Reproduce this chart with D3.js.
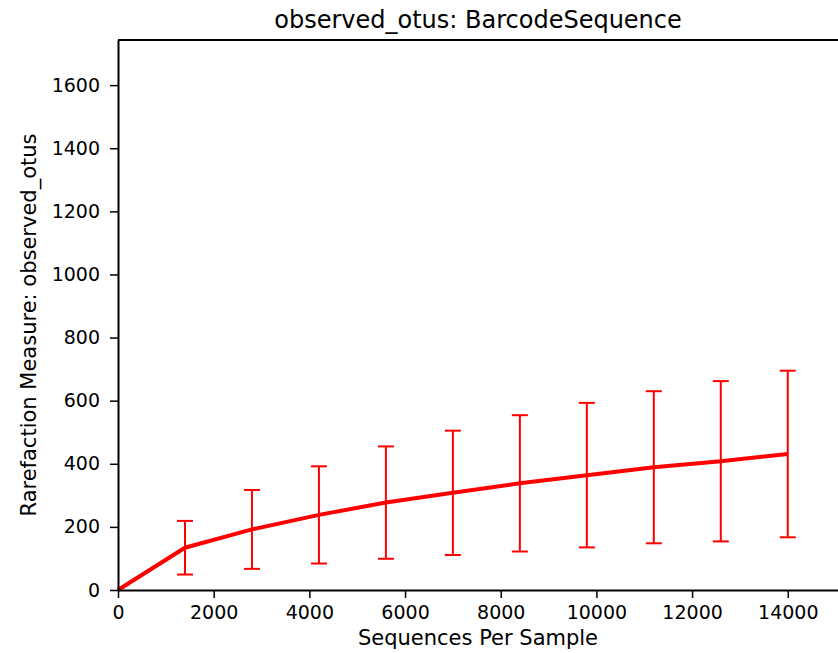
<!DOCTYPE html>
<html>
<head>
<meta charset="utf-8">
<script src="https://cdn.jsdelivr.net/npm/d3@7"></script>
<style>
  body { margin: 0; background: #fff; }
  text { font-family: "DejaVu Sans", sans-serif; }
</style>
</head>
<body>
<div id="chart-area"></div>
<script>
// rarefaction depths and observed_otus mean / std
var depths = [0, 1400, 2800, 4200, 5600, 7000, 8400, 9800, 11200, 12600, 14000];
var means = [0, 134, 192, 238, 277, 308, 338, 364, 389, 408, 431];
var stds = [0, 85, 125, 154, 178, 197, 216, 229, 241, 254, 264];
var xTicks = [0, 2000, 4000, 6000, 8000, 10000, 12000, 14000];
var yTicks = [0, 200, 400, 600, 800, 1000, 1200, 1400, 1600];

var width = 838;
var height = 653;
var margin = { top: 40, right: 0, bottom: 63, left: 118 };
var innerWidth = width - margin.left - margin.right;
var innerHeight = height - margin.top - margin.bottom;

var svg = d3.select("#chart-area")
    .append("svg")
    .attr("width", width)
    .attr("height", height);

var g = svg.append("g")
    .attr("transform", `translate(${margin.left}, ${margin.top})`);

var x = d3.scaleLinear()
    .domain([0, 15050])
    .range([0, innerWidth]);

var y = d3.scaleLinear()
    .domain([0, 1743])
    .range([innerHeight, 0]);

var data = depths.map((d, i) => ({ depth: d, mean: means[i], sd: stds[i] }));

// error bars
var bars = g.selectAll(".err")
    .data(data.filter(d => d.sd > 0))
    .enter()
    .append("g")
    .attr("class", "err")
    .attr("stroke", "#ff0000")
    .attr("stroke-width", 2);

bars.append("line")
    .attr("x1", d => x(d.depth))
    .attr("x2", d => x(d.depth))
    .attr("y1", d => y(d.mean - d.sd))
    .attr("y2", d => y(d.mean + d.sd));

bars.append("line")
    .attr("x1", d => x(d.depth) - 8)
    .attr("x2", d => x(d.depth) + 8)
    .attr("y1", d => y(d.mean + d.sd))
    .attr("y2", d => y(d.mean + d.sd));

bars.append("line")
    .attr("x1", d => x(d.depth) - 8)
    .attr("x2", d => x(d.depth) + 8)
    .attr("y1", d => y(d.mean - d.sd))
    .attr("y2", d => y(d.mean - d.sd));

// mean line
var line = d3.line()
    .x(d => x(d.depth))
    .y(d => y(d.mean));

g.append("path")
    .datum(data)
    .attr("fill", "none")
    .attr("stroke", "#ff0000")
    .attr("stroke-width", 4)
    .attr("d", line);

// axes
var xAxis = d3.axisBottom(x).tickValues(xTicks).tickFormat(d3.format("d"))
    .tickSize(8).tickPadding(3).tickSizeOuter(0);
var xg = g.append("g")
    .attr("transform", `translate(0, ${innerHeight})`)
    .call(xAxis);

var yAxis = d3.axisLeft(y).tickValues(yTicks).tickFormat(d3.format("d"))
    .tickSize(8).tickPadding(10).tickSizeOuter(0);
var yg = g.append("g").call(yAxis);

[xg, yg].forEach(a => {
    a.select(".domain").attr("stroke", "#000").attr("stroke-width", 2);
    a.selectAll(".tick line").attr("stroke", "#000").attr("stroke-width", 1.5);
    a.selectAll(".tick text")
        .attr("font-size", "19px")
        .attr("fill", "#000")
        .style("font-family", "DejaVu Sans, sans-serif");
});
xg.selectAll(".tick text").attr("dy", "0.95em");

// top spine
g.append("line")
    .attr("x1", 0)
    .attr("x2", innerWidth)
    .attr("y1", 0)
    .attr("y2", 0)
    .attr("stroke", "#000")
    .attr("stroke-width", 2);

// title and labels
g.append("text")
    .attr("x", innerWidth / 2)
    .attr("y", -12)
    .attr("text-anchor", "middle")
    .attr("font-size", "24px")
    .text("observed_otus: BarcodeSequence");

g.append("text")
    .attr("x", innerWidth / 2)
    .attr("y", innerHeight + 55)
    .attr("text-anchor", "middle")
    .attr("font-size", "21px")
    .text("Sequences Per Sample");

g.append("text")
    .attr("x", -285)
    .attr("y", -82)
    .attr("text-anchor", "middle")
    .attr("font-size", "21px")
    .attr("transform", "rotate(-90)")
    .text("Rarefaction Measure: observed_otus");
</script>
</body>
</html>
